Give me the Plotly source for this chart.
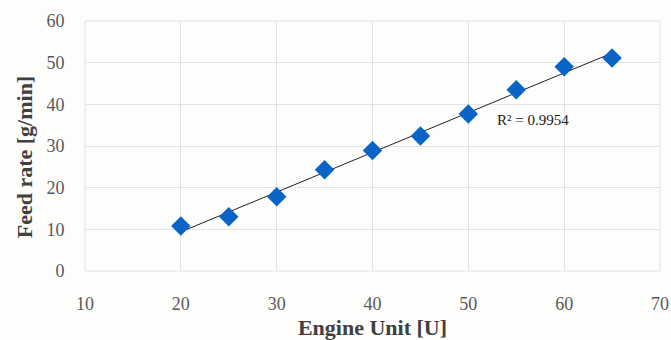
import numpy as np
import plotly.graph_objects as go

# Measured feed rate per engine unit setting
engine_unit = [20, 25, 30, 35, 40, 45, 50, 55, 60, 65]
feed_rate = [10.8, 13.0, 17.8, 24.3, 28.9, 32.4, 37.7, 43.5, 49.0, 51.1]
r2_label = "R² = 0.9954"

x_ticks = [10, 20, 30, 40, 50, 60, 70]
y_ticks = [0, 10, 20, 30, 40, 50, 60]

# Linear trendline fitted to the measurements
slope, intercept = np.polyfit(engine_unit, feed_rate, 1)
trend_x = [engine_unit[0], engine_unit[-1]]
trend_y = [slope * v + intercept for v in trend_x]

fig = go.Figure()
fig.add_trace(go.Scatter(
    x=trend_x, y=trend_y, mode="lines",
    line=dict(color="#222222", width=1), hoverinfo="skip", showlegend=False,
))
fig.add_trace(go.Scatter(
    x=engine_unit, y=feed_rate, mode="markers",
    marker=dict(symbol="diamond", size=15, color="#0a64c8"),
    showlegend=False,
))

fig.add_annotation(
    x=56.7, y=36.2, text=r2_label, showarrow=False,
    font=dict(family="Liberation Serif", size=15, color="#222222"),
)

tick_font = dict(family="Liberation Serif", size=18, color="#595959")
title_font = dict(family="Liberation Serif", size=22, color="#404040")

# Vertical axis title, set slightly below the plot's midline
fig.add_annotation(
    xref="paper", yref="paper", x=-0.106, y=0.455,
    xanchor="center", yanchor="middle",
    text="<b>Feed rate [g/min]</b>", textangle=-90, showarrow=False,
    font=title_font,
)

fig.update_xaxes(
    range=[10, 70], tickvals=x_ticks, tickfont=tick_font,
    showgrid=True, gridcolor="#e3e3e3", gridwidth=1, zeroline=False,
    showline=False, ticks="outside", ticklen=16, tickcolor="rgba(0,0,0,0)",
    title=dict(text="<b>Engine Unit [U]</b>", font=title_font, standoff=8),
    automargin=False,
)
fig.update_yaxes(
    range=[0, 60], tickvals=y_ticks, tickfont=tick_font,
    showgrid=True, gridcolor="#e3e3e3", gridwidth=1, zeroline=False,
    showline=False, ticks="outside", ticklen=16, tickcolor="rgba(0,0,0,0)",
    automargin=False,
)

fig.update_layout(
    width=671, height=340,
    margin=dict(l=85, r=11, t=21, b=69),
    paper_bgcolor="#fdfdfb", plot_bgcolor="#fdfdfb",
    shapes=[dict(type="rect", xref="paper", yref="paper", x0=0, y0=0, x1=1, y1=1,
                 line=dict(color="#e3e3e3", width=1), layer="below")],
)

fig.write_html("out.html")
